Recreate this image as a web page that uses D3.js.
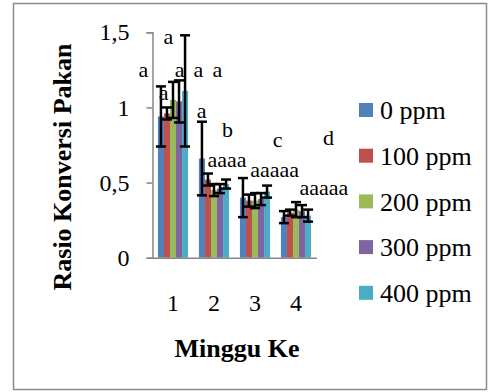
<!DOCTYPE html>
<html><head><meta charset="utf-8">
<script src="https://cdn.jsdelivr.net/npm/d3@7"></script>
<style>
html,body{margin:0;padding:0;background:#fff;}
text{font-family:"Liberation Serif","Times New Roman",serif;fill:#000;}
</style></head>
<body>
<svg id="chart" width="489" height="392"></svg>
<script>
// ---- data ----
const categories = ["1", "2", "3", "4"];
const seriesNames = ["0 ppm", "100 ppm", "200 ppm", "300 ppm", "400 ppm"];
const values0 = [0.94, 0.66, 0.40, 0.27];
const values100 = [0.96, 0.52, 0.38, 0.30];
const values200 = [1.05, 0.45, 0.38, 0.32];
const values300 = [1.04, 0.46, 0.39, 0.31];
const values400 = [1.11, 0.49, 0.44, 0.28];
const errors0 = [0.20, 0.245, 0.13, 0.04];
const errors100 = [0.04, 0.04, 0.04, 0.02];
const errors200 = [0.12, 0.04, 0.05, 0.05];
const errors300 = [0.14, 0.03, 0.04, 0.04];
const errors400 = [0.37, 0.03, 0.04, 0.04];
const yTicks = [0, 0.5, 1, 1.5];
const yTickLabels = ["0", "0,5", "1", "1,5"];
// significance letters: text, category, anchor value, shift in band steps
const annText = ["a", "a", "a", "a", "a", "a", "a", "b", "aaaa", "c", "aaaaa", "d", "aaaaa"];
const annCat = [0, 0, 0, 0, 0, 0, 1, 1, 1, 2, 2, 3, 3];
const annVal = [1.20, 1.42, 1.05, 1.20, 1.20, 1.20, 0.93, 0.80, 0.605, 0.737, 0.539, 0.75, 0.417];
const annShift = [-0.72, -0.11, -0.23, 0.16, 0.62, 1.08, -0.30, 0.33, 0.32, 0.55, 0.48, 0.79, 0.68];

const colors = ["#4F81BD", "#C0504D", "#9BBB59", "#8064A2", "#4BACC6"];
const allValues = [values0, values100, values200, values300, values400];
const allErrors = [errors0, errors100, errors200, errors300, errors400];

const svg = d3.select("#chart");
// outer frame
svg.append("rect").attr("x", 13.5).attr("y", 3.5).attr("width", 473).attr("height", 386)
  .attr("fill", "#fff").attr("stroke", "#8c8c8c").attr("stroke-width", 1.5);

const x0 = d3.scaleBand().domain(categories).range([152.5, 316.5]).padding(0);
const x1 = d3.scaleBand().domain(seriesNames).range([0, x0.bandwidth()]).paddingInner(0).paddingOuter(0.9);
const y = d3.scaleLinear().domain([0, 1.5]).range([257.7, 32.3]);

const axisColor = "#868686";

// bars
const rows = [];
seriesNames.forEach((s, si) => categories.forEach((c, ci) => rows.push({
  s, si, c, ci, v: allValues[si][ci], e: allErrors[si][ci]
})));

svg.append("g").selectAll("rect").data(rows).join("rect")
  .attr("x", d => x0(d.c) + x1(d.s))
  .attr("y", d => y(d.v))
  .attr("width", x1.bandwidth())
  .attr("height", d => y(0) - y(d.v))
  .attr("fill", d => colors[d.si]);

// y axis
const yAxis = d3.axisLeft(y).tickValues(yTicks).tickFormat((d, i) => yTickLabels[i]).tickSize(6).tickPadding(17);
const gy = svg.append("g").attr("transform", "translate(152.5,0)").call(yAxis);
gy.select(".domain").attr("stroke", axisColor).attr("stroke-width", 1.5);
gy.selectAll(".tick line").attr("stroke", axisColor).attr("stroke-width", 1.5);
gy.selectAll(".tick text").attr("font-size", 24).attr("font-family", "Liberation Serif").attr("fill", "#000");

// x axis
const xAxis = d3.axisBottom(x0).tickSize(0).tickPadding(36);
const gx = svg.append("g").attr("transform", `translate(0,${y(0)})`).call(xAxis);
gx.select(".domain").attr("stroke", axisColor).attr("stroke-width", 1.5);
gx.selectAll(".tick text").attr("font-size", 24).attr("font-family", "Liberation Serif").attr("fill", "#000");

// error bars
const eg = svg.append("g").attr("stroke", "#000").attr("stroke-width", 2.5);
rows.forEach(d => {
  const cx = x0(d.c) + x1(d.s) + x1.bandwidth() / 2;
  eg.append("line").attr("x1", cx).attr("x2", cx).attr("y1", y(d.v + d.e)).attr("y2", y(d.v - d.e));
  [d.v + d.e, d.v - d.e].forEach(t => eg.append("line")
    .attr("x1", cx - 5).attr("x2", cx + 5).attr("y1", y(t)).attr("y2", y(t)));
});

// significance letters
svg.append("g").selectAll("text").data(annText).join("text")
  .attr("x", (t, i) => x0(categories[annCat[i]]) + x0.bandwidth() / 2 + annShift[i] * x0.step())
  .attr("y", (t, i) => y(annVal[i]))
  .attr("text-anchor", "middle").attr("font-size", 22)
  .text(t => t);

// axis titles
svg.append("text").attr("transform", "translate(71,167) rotate(-90)")
  .attr("text-anchor", "middle").attr("font-size", 26).attr("font-weight", "bold")
  .text("Rasio Konversi Pakan");
svg.append("text").attr("x", 237).attr("y", 357)
  .attr("text-anchor", "middle").attr("font-size", 26).attr("font-weight", "bold")
  .text("Minggu Ke");

// legend
const lg = svg.append("g").selectAll("g").data(seriesNames).join("g")
  .attr("transform", (d, i) => `translate(359,${110 + i * 45.7})`);
lg.append("rect").attr("x", 0).attr("y", -7).attr("width", 14).attr("height", 14)
  .attr("fill", (d, i) => colors[i]);
lg.append("text").attr("x", 21).attr("dy", "0.35em").attr("font-size", 26).text(d => d);
</script>
</body></html>
